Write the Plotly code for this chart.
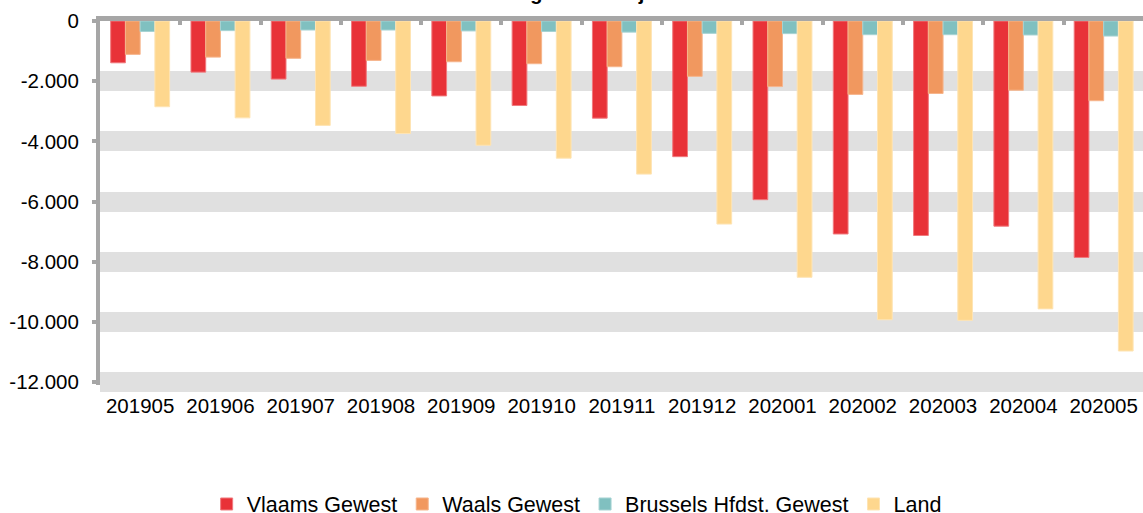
import plotly.graph_objects as go

months = ["201905", "201906", "201907", "201908", "201909", "201910", "201911",
          "201912", "202001", "202002", "202003", "202004", "202005"]

vlaams = [-1390, -1700, -1930, -2170, -2490, -2810, -3230, -4510, -5940, -7080, -7130, -6820, -7860]
waals = [-1110, -1200, -1240, -1310, -1355, -1420, -1520, -1840, -2180, -2440, -2410, -2300, -2650]
brussel = [-350, -320, -300, -300, -330, -350, -370, -410, -420, -455, -455, -465, -500]
land = [-2850, -3220, -3470, -3740, -4130, -4560, -5090, -6750, -8520, -9930, -9950, -9570, -10970]

series_names = ["Vlaams Gewest", "Waals Gewest", "Brussels Hfdst. Gewest", "Land"]
series_colors = ["#E83238", "#F1985F", "#80C0C0", "#FED78E"]
border_colors = ["#F07A7E", "#F6B58C", "#A6D3D3", "#FEE4B4"]

y_tick_vals = [0, -2000, -4000, -6000, -8000, -10000, -12000]
y_tick_text = ["0", "-2.000", "-4.000", "-6.000", "-8.000", "-10.000", "-12.000"]
band_vals = [-2000, -4000, -6000, -8000, -10000, -12000]

title_text = "Verandering t.o.v. een jaar eerder"

FONT = "Liberation Sans, Arial, sans-serif"
AXIS_GRAY = "#A6A6A6"

fig = go.Figure()
for name, vals, col, bcol in zip(series_names, [vlaams, waals, brussel, land], series_colors, border_colors):
    fig.add_trace(go.Bar(
        x=months, y=vals, name=name,
        marker=dict(color=col, line=dict(color=bcol, width=1)),
    ))

# empty helper trace registering the overlay axes (top line + bands)
fig.add_trace(go.Scatter(x=[], y=[], xaxis="x2", yaxis="y2", showlegend=False, hoverinfo="skip"))

y_range = [-12100, 0]
n = len(months)
x2_range = [-0.5, n - 0.51]

fig.update_layout(
    width=1143, height=513,
    margin=dict(l=100, r=0, t=21, b=128, autoexpand=False),
    paper_bgcolor="white", plot_bgcolor="white",
    font=dict(family=FONT, size=20, color="black"),
    barmode="group", bargap=0.266, bargroupgap=0,
    title=dict(text="<b>" + title_text + "</b>", font=dict(family=FONT, size=20, color="black"),
               xref="container", x=0.511, xanchor="center",
               yref="container", y=1, yanchor="bottom"),
    xaxis=dict(type="category", range=x2_range, showline=False, ticks="", showgrid=False,
               zeroline=False, tickfont=dict(family=FONT, size=20.5, color="black"),
               tickangle=0, ticklabelstandoff=6),
    xaxis2=dict(overlaying="x", side="top", anchor="y2", range=x2_range,
                tickvals=[i - 0.5 for i in range(n + 1)], ticks="inside", ticklen=4, tickwidth=4,
                tickcolor=AXIS_GRAY, showline=True, linecolor=AXIS_GRAY, linewidth=5,
                showticklabels=False, showgrid=False, zeroline=False),
    yaxis=dict(range=y_range, tickvals=y_tick_vals, ticktext=y_tick_text, showgrid=False,
               zeroline=False, showline=True, linecolor=AXIS_GRAY, linewidth=4,
               ticks="outside", ticklen=4, tickwidth=4, tickcolor=AXIS_GRAY,
               tickfont=dict(family=FONT, size=20.5, color="black"), ticklabelstandoff=9),
    yaxis2=dict(overlaying="y", anchor="x2", range=y_range, tickvals=band_vals,
                showticklabels=False, showgrid=True, gridcolor="#E0E0E0", gridwidth=20,
                zeroline=False, showline=False, ticks=""),
    legend=dict(orientation="h", x=0.457, xanchor="center",
                yref="container", y=0.0175, yanchor="middle",
                font=dict(family=FONT, size=21.5, color="black"),
                traceorder="normal"),
    showlegend=True,
)

fig.write_html("out.html", config={"displayModeBar": False},
               post_script="document.body.style.margin='0';document.body.style.overflow='hidden';")
